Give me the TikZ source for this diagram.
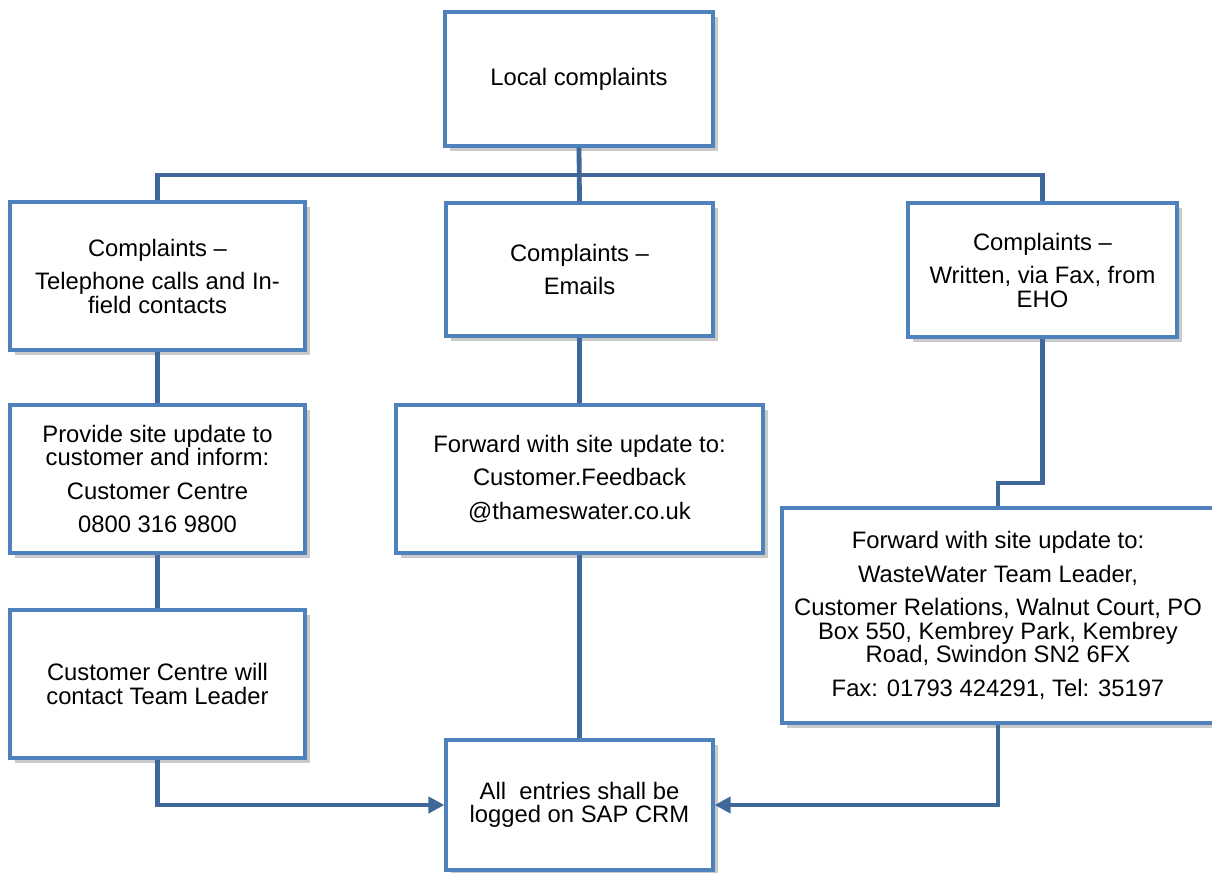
\documentclass[tikz,border=0pt]{standalone}
\usepackage{fontspec}
\setmainfont{Liberation Sans}
\usepackage{tikz}
\usetikzlibrary{arrows.meta,shadows}
\usepackage{xcolor}
\definecolor{boxblue}{RGB}{79,129,189}
\definecolor{lineblue}{RGB}{64,103,154}

\begin{document}
\begin{tikzpicture}[x=0.5pt,y=-0.5pt,
  flowbox/.style={draw=boxblue, line width=1.6pt, fill=white, align=center,
    font=\fontsize{11.9}{11.75}\selectfont, inner sep=2pt,
    drop shadow={shadow xshift=2.5pt, shadow yshift=-2.5pt, fill=black!60, opacity=0.35}},
  link/.style={draw=lineblue, line width=2.4pt},
  tip/.style={-{Triangle[length=8pt,width=8pt]}}]
\useasboundingbox (0,0) rectangle (1212,873);

% Boxes
\node[flowbox, minimum width=134pt, minimum height=67pt] (local) at (579,79) {Local complaints};
\node[flowbox, minimum width=147.5pt, minimum height=74pt] (tel) at (157.5,276)
  {Complaints --\\[5pt] Telephone calls and In-\\ field contacts};
\node[flowbox, minimum width=133.5pt, minimum height=66.5pt] (email) at (579.5,269.5)
  {Complaints --\\[5pt] Emails};
\node[flowbox, minimum width=134.5pt, minimum height=67pt] (fax) at (1042.5,270)
  {Complaints --\\[5pt] Written, via Fax, from\\ EHO};
\node[flowbox, minimum width=147.5pt, minimum height=74pt] (site) at (157.5,479)
  {Provide site update to\\ customer and inform:\\[5pt] Customer Centre\\[5pt] 0800 316 9800};
\node[flowbox, minimum width=183.5pt, minimum height=74pt] (fwd) at (579.5,479)
  {Forward with site update to:\\[5pt] Customer.Feedback\\[5pt] @thameswater.co.uk};
\node[flowbox, minimum width=147.5pt, minimum height=74pt] (centre) at (157.5,684)
  {Customer Centre will\\ contact Team Leader};
\node[flowbox, minimum width=216pt, minimum height=107.5pt] (waste) at (998,615.5)
  {Forward with site update to:\\[5pt] WasteWater Team Leader,\\[5pt]
   Customer Relations, Walnut Court, PO\\ Box 550, Kembrey Park, Kembrey\\
   Road, Swindon SN2 6FX\\[5pt] Fax: 01793 424291, Tel: 35197};
\node[flowbox, minimum width=133.5pt, minimum height=65pt] (sap) at (579.5,805)
  {All\ \ entries shall be\\ logged on SAP CRM};

% Connectors
\coordinate (bus) at (579,175);
\coordinate (jog) at (998,483);
\draw[link] (local.south) -- (email.north);
\draw[link] (tel.north) |- (bus) -| (fax.north);
\draw[link] (tel.south) -- (site.north);
\draw[link] (site.south) -- (centre.north);
\draw[link] (email.south) -- (fwd.north);
\draw[link] (fwd.south) -- (sap.north);
\draw[link] (fax.south) |- (jog) -- (waste.north);
\draw[link,tip] (centre.south) |- (sap.west);
\draw[link,tip] (waste.south) |- (sap.east);
\end{tikzpicture}
\end{document}
